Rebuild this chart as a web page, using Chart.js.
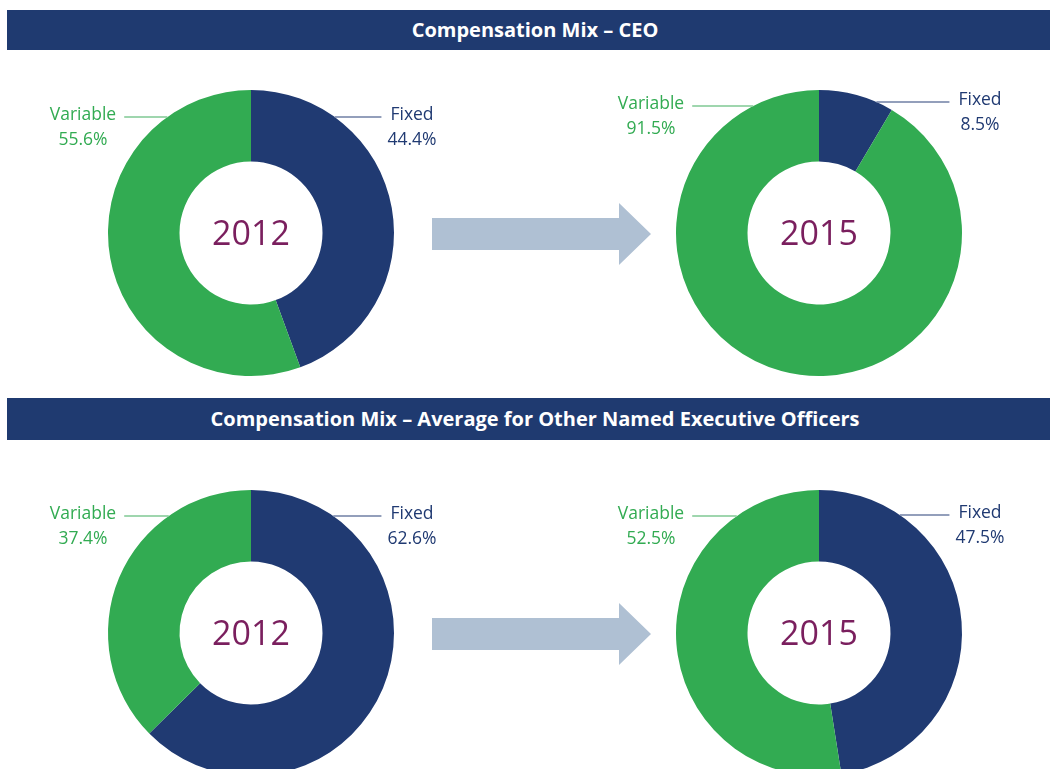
<!DOCTYPE html>
<html>
<head>
<meta charset="utf-8">
<script src="https://cdn.jsdelivr.net/npm/chart.js@4"></script>
<style>
  html, body { margin: 0; padding: 0; background: #fff; }
  body { width: 1050px; height: 769px; overflow: hidden; position: relative; font-family: "Open Sans", sans-serif; }
  .bar {
    position: absolute; left: 7px; width: 1056px; background: #1F3A70;
    color: #fff; font-weight: 700; font-size: 20px; text-align: center;
  }
  .arrow {
    position: absolute; width: 219px; height: 62px; background: #AFC0D3;
    clip-path: polygon(0 15px, 187px 15px, 187px 0, 219px 31px, 187px 62px, 187px 47px, 0 47px);
  }
  canvas { position: absolute; }
</style>
</head>
<body>
<div class="bar" id="title1" style="top:10px;height:40px;line-height:40px;"></div>
<div class="bar" id="title2" style="top:398px;height:42px;line-height:42px;"></div>
<div class="arrow" style="left:432px;top:203px;"></div>
<div class="arrow" style="left:432px;top:603px;"></div>

<canvas id="ceo2012" width="500" height="320" style="left:1px;top:73px;"></canvas>
<canvas id="ceo2015" width="500" height="320" style="left:569px;top:73px;"></canvas>
<canvas id="neo2012" width="500" height="320" style="left:1px;top:473px;"></canvas>
<canvas id="neo2015" width="500" height="320" style="left:569px;top:473px;"></canvas>

<script>
// titles
const titles = ['Compensation Mix \u2013 CEO', 'Compensation Mix \u2013 Average for Other Named Executive Officers'];

// segments: Fixed first (clockwise from 12 o'clock), then Variable
const segmentLabels = ['Fixed', 'Variable'];
const ceo2012 = [44.4, 55.6];
const ceo2015 = [8.5, 91.5];
const neo2012 = [62.6, 37.4];
const neo2015 = [47.5, 52.5];
const years = ['2012', '2015', '2012', '2015'];

const navy = '#203A72';
const green = '#32AB52';

document.getElementById('title1').textContent = titles[0];
document.getElementById('title2').textContent = titles[1];

// draws the year in the hole and the two callout labels
const calloutPlugin = {
  id: 'callouts',
  afterDraw(chart) {
    const ctx = chart.ctx;
    const arc = chart.getDatasetMeta(0).data[0];
    const cx = arc.x, cy = arc.y, r = arc.outerRadius;
    const opts = chart.options.plugins.callouts;
    const values = chart.data.datasets[0].data;

    ctx.save();
    ctx.textAlign = 'center';
    ctx.textBaseline = 'middle';
    ctx.fillStyle = '#7A1F5E';
    ctx.font = '34px "Open Sans", sans-serif';
    ctx.fillText(opts.year, cx, cy + 2);

    ctx.font = '17.5px "Open Sans", sans-serif';
    ctx.lineWidth = 1.5;

    // Variable on the left
    let y = cy - r + opts.rise[1];
    let edge = Math.sqrt(r * r - (cy - y) * (cy - y));
    const vx = cx - 168;
    ctx.fillStyle = green;
    ctx.fillText(segmentLabels[1], vx, y - 2);
    ctx.fillText(values[1].toFixed(1) + '%', vx, y + 23);
    ctx.strokeStyle = '#7FC893';
    ctx.beginPath();
    ctx.moveTo(vx + ctx.measureText(segmentLabels[1]).width / 2 + 8, y);
    ctx.lineTo(cx - edge, y);
    ctx.stroke();

    // Fixed on the right
    y = cy - r + opts.rise[0];
    edge = Math.sqrt(r * r - (cy - y) * (cy - y));
    const fx = cx + 161;
    ctx.fillStyle = navy;
    ctx.fillText(segmentLabels[0], fx, y - 2);
    ctx.fillText(values[0].toFixed(1) + '%', fx, y + 23);
    ctx.strokeStyle = '#6F7FA4';
    ctx.beginPath();
    ctx.moveTo(cx + edge, y);
    ctx.lineTo(fx - ctx.measureText(segmentLabels[0]).width / 2 - 9, y);
    ctx.stroke();
    ctx.restore();
  }
};

function makeDonut(id, values, year, rise) {
  new Chart(document.getElementById(id), {
    type: 'doughnut',
    data: {
      labels: segmentLabels,
      datasets: [{
        data: values,
        backgroundColor: [navy, green],
        borderWidth: 0
      }]
    },
    options: {
      responsive: false,
      animation: false,
      radius: 143,
      cutout: '50%',
      layout: { padding: 0 },
      plugins: {
        legend: { display: false },
        tooltip: { enabled: false },
        callouts: { year: year, rise: rise }
      }
    },
    plugins: [calloutPlugin]
  });
}

// rise = [fixed, variable] leader offset below the ring's top
makeDonut('ceo2012', ceo2012, years[0], [27, 27]);
makeDonut('ceo2015', ceo2015, years[1], [12, 16]);
makeDonut('neo2012', neo2012, years[2], [26, 26]);
makeDonut('neo2015', neo2015, years[3], [25, 26]);
</script>
</body>
</html>
